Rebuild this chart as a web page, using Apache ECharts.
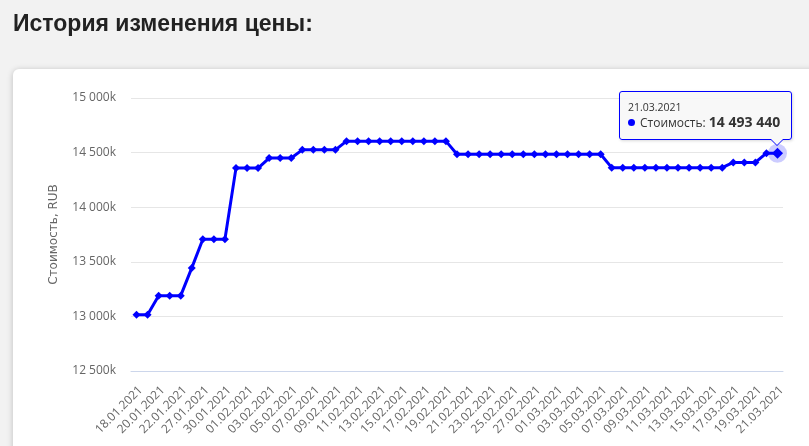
<!DOCTYPE html>
<html><head><meta charset="utf-8">
<script src="https://cdn.jsdelivr.net/npm/echarts@6/dist/echarts.min.js"></script>
<style>html,body{margin:0;padding:0;background:#f2f2f2;}#chart{width:809px;height:446px;}</style>
</head><body><div id="chart"></div>
<script>
const titleText = 'История изменения цены:';
const seriesName = 'Стоимость';
const yAxisName = 'Стоимость, RUB';
const dates = [
  '18.01.2021','19.01.2021','20.01.2021','21.01.2021','22.01.2021','25.01.2021','27.01.2021','28.01.2021','30.01.2021','31.01.2021',
  '01.02.2021','02.02.2021','03.02.2021','04.02.2021','05.02.2021','06.02.2021','07.02.2021','08.02.2021','09.02.2021','10.02.2021',
  '11.02.2021','12.02.2021','13.02.2021','14.02.2021','15.02.2021','16.02.2021','17.02.2021','18.02.2021','19.02.2021','20.02.2021',
  '21.02.2021','22.02.2021','23.02.2021','24.02.2021','25.02.2021','26.02.2021','27.02.2021','28.02.2021',
  '01.03.2021','02.03.2021','03.03.2021','04.03.2021','05.03.2021','06.03.2021','07.03.2021','08.03.2021','09.03.2021','10.03.2021',
  '11.03.2021','12.03.2021','13.03.2021','14.03.2021','15.03.2021','16.03.2021','17.03.2021','18.03.2021','19.03.2021','20.03.2021','21.03.2021'
];
const prices = [
  13016000, 13016000, 13190000, 13190000, 13190000, 13444000, 13706000, 13706000, 13706000, 14358000,
  14358000, 14358000, 14450000, 14450000, 14450000, 14525000, 14525000, 14525000, 14525000, 14605000,
  14605000, 14605000, 14605000, 14605000, 14605000, 14605000, 14605000, 14605000, 14605000, 14485000,
  14485000, 14485000, 14485000, 14485000, 14485000, 14485000, 14485000, 14485000,
  14485000, 14485000, 14485000, 14485000, 14485000, 14362000, 14362000, 14362000, 14362000, 14362000,
  14362000, 14362000, 14362000, 14362000, 14362000, 14362000, 14410000, 14410000, 14410000, 14495000, 14493440
];
const yMin = 12500000, yMax = 15000000, yStep = 500000;
const tipIndex = dates.length - 1;

function fmt(n) { return String(n).replace(/\B(?=(\d{3})+(?!\d))/g, ' '); }
const font = "'Open Sans', 'DejaVu Sans', sans-serif";
const chart = echarts.init(document.getElementById('chart'), null, { renderer: 'canvas' });

chart.setOption({
  animation: false,
  backgroundColor: '#f2f2f2',
  title: {
    text: titleText, left: 13, top: 13, padding: 0,
    textStyle: { fontFamily: "'Liberation Sans', Arial, sans-serif", fontSize: 23, fontWeight: 'bold', color: '#222' }
  },
  graphic: [{
    type: 'rect', z: -10, silent: true,
    shape: { x: 13, y: 69, width: 830, height: 420, r: 6 },
    style: { fill: '#ffffff', shadowBlur: 6, shadowColor: 'rgba(0,0,0,0.22)', shadowOffsetY: 1 }
  }],
  grid: { left: 131, right: 26, top: 98, bottom: 75, containLabel: false, outerBoundsMode: 'none' },
  tooltip: {
    trigger: 'item', triggerOn: 'none', alwaysShowContent: true, transitionDuration: 0,
    backgroundColor: 'transparent', borderWidth: 0, padding: 0,
    shadowBlur: 0, shadowColor: 'transparent',
    extraCssText: 'box-shadow:none;',
    textStyle: { fontFamily: font, fontSize: 12, color: '#333' },
    position: function (point, params) {
      const p = chart.convertToPixel({ seriesIndex: 0 }, [params.dataIndex, prices[params.dataIndex]]);
      return [p[0] - 158, p[1] - 62];
    },
    formatter: function (p) {
      return '<div style="position:relative;width:155px;padding:8px;border:1px solid #0000ff;border-radius:3px;' +
        'background:rgba(247,247,247,0.9);box-shadow:1px 1px 3px rgba(0,0,0,0.15);">' +
        '<div style="font-size:10.5px;line-height:14px;color:#333">' + p.name + '</div>' +
        '<div style="font-size:12px;line-height:16px;color:#333;white-space:nowrap">' +
        '<span style="display:inline-block;width:7px;height:7px;border-radius:50%;background:#0000ff;margin-right:5px;vertical-align:1px"></span>' +
        seriesName + ': <b style="font-size:14px">' + fmt(prices[p.dataIndex]) + '</b></div>' +
        '<div style="position:absolute;left:150px;top:100%;width:0;height:0;border-left:7px solid transparent;border-right:7px solid transparent;border-top:7px solid #0000ff"></div>' +
        '<div style="position:absolute;left:151px;top:100%;width:0;height:0;border-left:6px solid transparent;border-right:6px solid transparent;border-top:6px solid rgb(248,248,248)"></div>' +
        '</div>';
    }
  },
  xAxis: {
    type: 'category', data: dates, boundaryGap: true,
    axisLine: { lineStyle: { color: '#ccd6eb', width: 1 } },
    axisTick: { show: false },
    axisLabel: { rotate: 45, interval: 1, color: '#666', fontSize: 12, fontFamily: font, margin: 13, verticalAlign: 'top' },
    splitLine: { show: false }
  },
  yAxis: {
    type: 'value', min: yMin, max: yMax, interval: yStep,
    name: yAxisName, nameLocation: 'middle', nameGap: 71,
    nameTextStyle: { color: '#666', fontSize: 12, fontFamily: "'DejaVu Sans', sans-serif" },
    axisLabel: { formatter: function (v) { return fmt(v / 1000) + 'k'; }, color: '#666', fontSize: 12, fontFamily: font, margin: 15 },
    splitLine: { lineStyle: { color: '#e6e6e6', width: 1 } },
    axisLine: { show: false }, axisTick: { show: false }
  },
  series: [
    {
      type: 'line', name: seriesName,
      data: prices.map(function (v, i) { return i === tipIndex ? { value: v, symbolSize: 11 } : v; }),
      symbol: 'diamond', symbolSize: 8, showAllSymbol: true,
      lineStyle: { color: '#0000ff', width: 3 }, itemStyle: { color: '#0000ff' },
      emphasis: { disabled: true }, z: 3
    },
    {
      type: 'scatter', silent: true, z: 2,
      data: [[tipIndex, prices[tipIndex]]],
      symbol: 'circle', symbolSize: 19,
      itemStyle: { color: 'rgba(0,0,255,0.25)' },
      tooltip: { show: false }
    }
  ]
});
chart.dispatchAction({ type: 'showTip', seriesIndex: 0, dataIndex: tipIndex });
</script>
</body></html>
